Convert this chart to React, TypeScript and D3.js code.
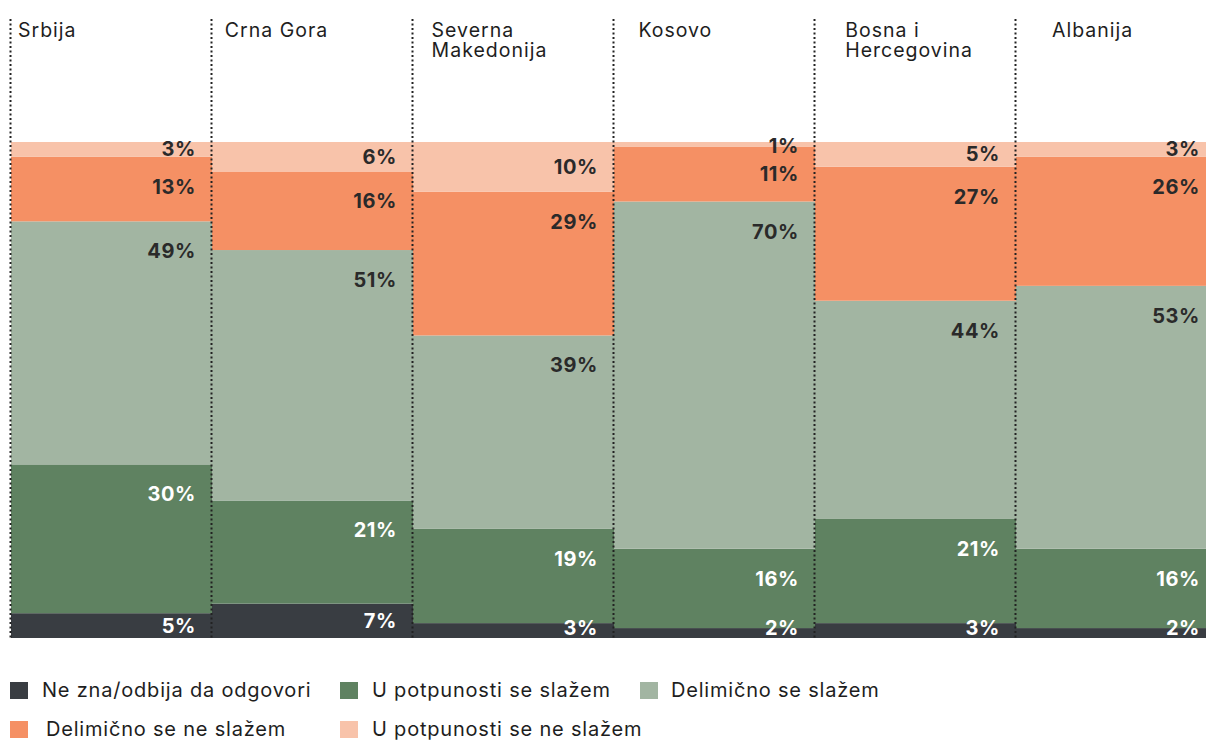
import React, { useEffect, useRef } from 'react'
import * as d3 from 'd3'

const countries = ['Srbija', 'Crna Gora', 'Severna Makedonija', 'Kosovo', 'Bosna i Hercegovina', 'Albanija']
const countryLines = [['Srbija'], ['Crna Gora'], ['Severna', 'Makedonija'], ['Kosovo'], ['Bosna i', 'Hercegovina'], ['Albanija']]

const keys = ['neZna', 'uPotpunostiSlazem', 'delimicnoSlazem', 'delimicnoNeSlazem', 'uPotpunostiNeSlazem']
const keyLabels = [
  'Ne zna/odbija da odgovori',
  'U potpunosti se slažem',
  'Delimično se slažem',
  'Delimično se ne slažem',
  'U potpunosti se ne slažem',
]
const colors = ['#393d42', '#5f8261', '#a2b5a2', '#f59064', '#f8c3aa']
const labelColors = ['#ffffff', '#ffffff', '#2a2a2a', '#2a2a2a', '#2a2a2a']

// values per country, bottom to top
const neZna = [5, 7, 3, 2, 3, 2]
const uPotpunostiSlazem = [30, 21, 19, 16, 21, 16]
const delimicnoSlazem = [49, 51, 39, 70, 44, 53]
const delimicnoNeSlazem = [13, 16, 29, 11, 27, 26]
const uPotpunostiNeSlazem = [3, 6, 10, 1, 5, 3]

const FONT = 'Inter, "Noto Sans", sans-serif'

export default function App() {
  const svgRef = useRef<SVGSVGElement>(null)
  const width = 1206
  const height = 740

  useEffect(() => {
    document.body.style.margin = '0'
    if (!svgRef.current) return
    const svg = d3.select(svgRef.current)
    svg.selectAll('*').remove()

    const rows = countries.map((c, i) => ({
      country: c,
      neZna: neZna[i],
      uPotpunostiSlazem: uPotpunostiSlazem[i],
      delimicnoSlazem: delimicnoSlazem[i],
      delimicnoNeSlazem: delimicnoNeSlazem[i],
      uPotpunostiNeSlazem: uPotpunostiNeSlazem[i],
    }))

    const series = d3.stack<any>().keys(keys).offset(d3.stackOffsetExpand)(rows)

    const x = d3.scaleBand().domain(countries).range([11, 11 + 6 * 201]).padding(0)
    const y = d3.scaleLinear().domain([0, 1]).range([638, 142])
    const headerX = d3.scalePoint().domain(countries).range([18, 1052])

    // bars
    series.forEach((s, k) => {
      svg.append('g')
        .selectAll('rect')
        .data(s)
        .enter()
        .append('rect')
        .attr('x', d => x(d.data.country)!)
        .attr('width', x.bandwidth())
        .attr('y', d => y(d[1]))
        .attr('height', d => y(d[0]) - y(d[1]))
        .attr('fill', colors[k])
    })

    // value labels
    series.forEach((s, k) => {
      svg.append('g')
        .selectAll('text')
        .data(s)
        .enter()
        .append('text')
        .attr('x', d => Math.min(x(d.data.country)! + x.bandwidth() - 16, 1200))
        .attr('y', d => {
          const top = y(d[1])
          const h = y(d[0]) - top
          const yc = top + Math.min(h / 2, 30)
          return Math.max(146, Math.min(628, yc))
        })
        .attr('dy', '0.35em')
        .attr('text-anchor', 'end')
        .attr('font-family', FONT)
        .attr('font-weight', 700)
        .attr('font-size', '20px')
        .attr('letter-spacing', '0.6px')
        .attr('fill', labelColors[k])
        .text(d => `${(d.data as any)[keys[k]]}%`)
    })

    // dotted separators
    svg.append('g')
      .selectAll('line')
      .data(countries)
      .enter()
      .append('line')
      .attr('x1', d => x(d)! - 0.5)
      .attr('x2', d => x(d)! - 0.5)
      .attr('y1', 19)
      .attr('y2', 638)
      .attr('stroke', '#222')
      .attr('stroke-width', 2)
      .attr('stroke-dasharray', '2,2.5')

    // country names, one text per line
    countries.forEach((c, i) => {
      countryLines[i].forEach((line, j) => {
        svg.append('text')
          .attr('x', headerX(c)!)
          .attr('y', 37 + j * 20)
          .attr('font-family', FONT)
          .attr('font-size', '19.5px')
          .attr('letter-spacing', '1px')
          .attr('fill', '#1e1e1e')
          .text(line)
      })
    })

    // legend
    const legendPos = [
      { x: 10, y: 682, tx: 42 },
      { x: 340, y: 682, tx: 372 },
      { x: 640, y: 682, tx: 671 },
      { x: 10, y: 721, tx: 46 },
      { x: 340, y: 721, tx: 372 },
    ]
    const legend = svg.append('g')
    keyLabels.forEach((label, i) => {
      const p = legendPos[i]
      legend.append('rect')
        .attr('x', p.x)
        .attr('y', p.y)
        .attr('width', 18)
        .attr('height', 17)
        .attr('fill', colors[i])
      legend.append('text')
        .attr('x', p.tx)
        .attr('y', p.y + 15)
        .attr('font-family', FONT)
        .attr('font-size', '20px')
        .attr('letter-spacing', '0.8px')
        .attr('fill', '#1e1e1e')
        .text(label)
    })
  }, [])

  return <svg ref={svgRef} width={width} height={height} style={{ display: 'block' }} />
}
